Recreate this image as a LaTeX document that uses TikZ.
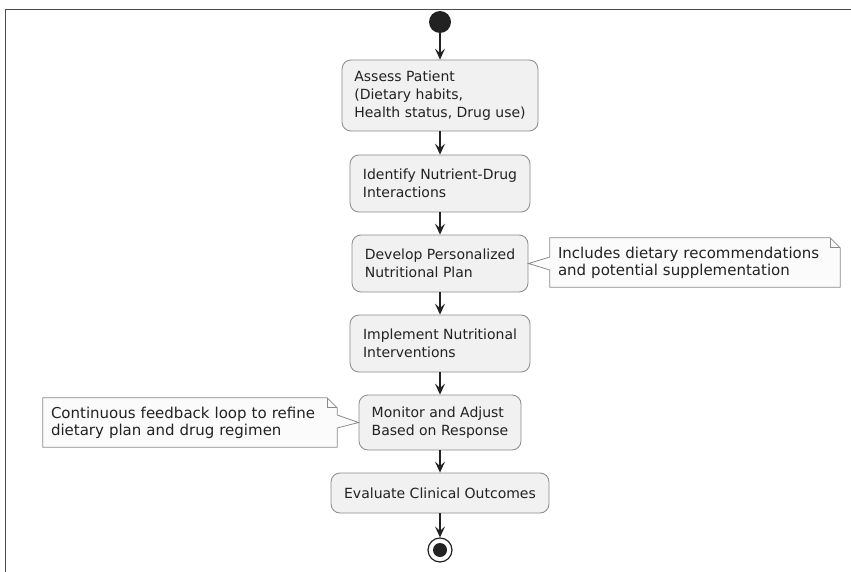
\documentclass[tikz,border=0pt]{standalone}
\usepackage{fontspec}
\setmainfont{DejaVu Sans}
\usetikzlibrary{arrows.meta,calc}
\definecolor{boxfill}{HTML}{F1F1F1}
\definecolor{boxline}{HTML}{8A8A8A}
\definecolor{ink}{HTML}{222222}
\definecolor{notefill}{HTML}{FBFBFB}
\begin{document}
\begin{tikzpicture}[x=1pt,y=-1pt,
  act/.style={draw=boxline, fill=boxfill, rounded corners=9pt, line width=0.8pt,
    align=left, inner xsep=0pt, inner ysep=0pt, text=ink,
    font=\fontsize{14}{18}\selectfont},
  notetext/.style={align=left, inner xsep=0pt, inner ysep=0pt, text=ink,
    font=\fontsize{15}{17}\selectfont, anchor=center},
  notebody/.style={draw=boxline, fill=notefill, line width=0.8pt, line join=miter},
  flow/.style={draw=ink, line width=1.2pt, -{Stealth[length=11pt,width=10pt,inset=4.5pt]}}
]
\useasboundingbox (0,0) rectangle (851,572);
\draw[gray!60!black, line width=1pt] (5,572) -- (5,10) -- (851,10);

\node[circle, fill=ink, minimum size=22pt, inner sep=0pt] (start) at (440,22) {};
\node[act, minimum width=196pt, minimum height=71pt] (b1) at (440,95.5)
  {Assess Patient\\(Dietary habits,\\Health status, Drug use)};
\node[act, minimum width=180pt, minimum height=57pt] (b2) at (440,183.5)
  {Identify Nutrient-Drug\\Interactions};
\node[act, minimum width=176pt, minimum height=57pt] (b3) at (440,263.5)
  {Develop Personalized\\Nutritional Plan};
\node[act, minimum width=180pt, minimum height=57pt] (b4) at (440,343.5)
  {Implement Nutritional\\Interventions};
\node[act, minimum width=162pt, minimum height=55pt] (b5) at (440,422.5)
  {Monitor and Adjust\\Based on Response};
\node[act, minimum width=218pt, minimum height=40pt] (b6) at (440,493)
  {Evaluate Clinical Outcomes};
\node[circle, draw=ink, fill=white, line width=1.2pt, minimum size=24pt, inner sep=0pt] (end) at (440,550) {};
\node[circle, fill=ink, minimum size=14pt, inner sep=0pt] (endin) at (440,550) {};

% notes
\node[notetext, minimum width=290pt, minimum height=49pt] (n1) at (695,262.5) {};
\draw[notebody] (n1.north west) -- ([xshift=-10pt]n1.north east) -- ([yshift=-10pt]n1.north east)
  -- (n1.south east) -- (n1.south west) -- ($(n1.west)+(0,7.5)$) -- (b3.east)
  -- ($(n1.west)+(0,-5.5)$) -- cycle;
\draw[boxline, line width=0.8pt] ([xshift=-10pt]n1.north east) |- ([yshift=-10pt]n1.north east);
\node[notetext, text width=274pt] at (n1.center) {Includes dietary recommendations\\and potential supplementation};

\node[notetext, minimum width=294pt, minimum height=49pt] (n2) at (190,422.5) {};
\draw[notebody] (n2.north west) -- ([xshift=-10pt]n2.north east) -- ([yshift=-10pt]n2.north east)
  -- ($(n2.east)+(0,-7.5)$) -- (b5.west) -- ($(n2.east)+(0,5.5)$)
  -- (n2.south east) -- (n2.south west) -- cycle;
\draw[boxline, line width=0.8pt] ([xshift=-10pt]n2.north east) |- ([yshift=-10pt]n2.north east);
\node[notetext, text width=278pt] at (n2.center) {Continuous feedback loop to refine\\dietary plan and drug regimen};

\draw[flow] (start) -- (b1);
\draw[flow] (b1) -- (b2);
\draw[flow] (b2) -- (b3);
\draw[flow] (b3) -- (b4);
\draw[flow] (b4) -- (b5);
\draw[flow] (b5) -- (b6);
\draw[flow] (b6) -- (end);
\end{tikzpicture}
\end{document}
